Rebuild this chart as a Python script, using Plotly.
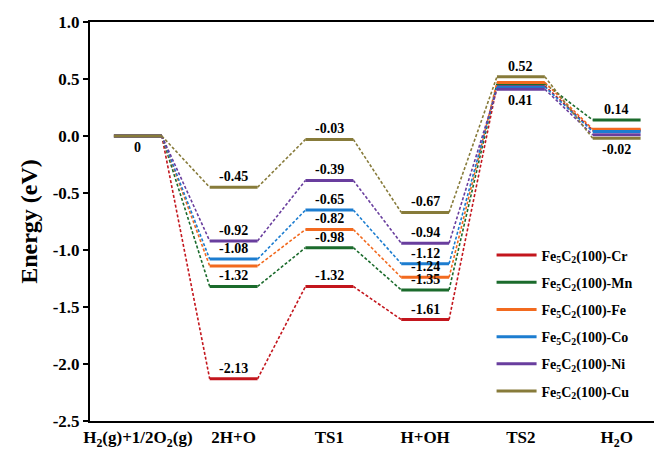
import plotly.graph_objects as go

# Reaction stages along the x axis
stages = ["H<sub>2</sub>(g)+1/2O<sub>2</sub>(g)", "2H+O", "TS1", "H+OH", "TS2", "H<sub>2</sub>O"]

# Relative energies (eV) at each stage for every doped surface
e_cr = [0.0, -2.13, -1.32, -1.61, 0.44, 0.05]
e_mn = [0.0, -1.32, -0.98, -1.35, 0.46, 0.14]
e_fe = [0.0, -1.14, -0.82, -1.24, 0.47, 0.06]
e_co = [0.0, -1.08, -0.65, -1.12, 0.43, 0.04]
e_ni = [0.0, -0.92, -0.39, -0.94, 0.41, 0.01]
e_cu = [0.0, -0.45, -0.03, -0.67, 0.52, -0.02]

names = ["Fe<sub>5</sub>C<sub>2</sub>(100)-Cr", "Fe<sub>5</sub>C<sub>2</sub>(100)-Mn",
         "Fe<sub>5</sub>C<sub>2</sub>(100)-Fe", "Fe<sub>5</sub>C<sub>2</sub>(100)-Co",
         "Fe<sub>5</sub>C<sub>2</sub>(100)-Ni", "Fe<sub>5</sub>C<sub>2</sub>(100)-Cu"]
energies = [e_cr, e_mn, e_fe, e_co, e_ni, e_cu]
colors = ["#c3161d", "#1b6b2c", "#f26a1f", "#1c7dd0", "#693e9e", "#877b3a"]

# y axis ticks
y_ticks = [1.0, 0.5, 0.0, -0.5, -1.0, -1.5, -2.0, -2.5]
y_ticktext = ["1.0", "0.5", "0.0", "-0.5", "-1.0", "-1.5", "-2.0", "-2.5"]

# Which stages carry a value label, and whether it sits above (+1) or below (-1) the level
labels_cr = {1: 1, 2: 1, 3: 1}
labels_mn = {1: 1, 2: 1, 3: 1, 5: 1}
labels_fe = {2: 1, 3: 1}
labels_co = {1: 1, 2: 1, 3: 1}
labels_ni = {1: 1, 2: 1, 3: 1, 4: -1}
labels_cu = {0: -1, 1: 1, 2: 1, 3: 1, 4: 1, 5: -1}
label_sets = [labels_cr, labels_mn, labels_fe, labels_co, labels_ni, labels_cu]

HALF = 0.25  # half width of each energy level bar

fig = go.Figure()
for name, ys, col in zip(names, energies, colors):
    # dashed connectors between consecutive levels
    cx, cy = [], []
    for i in range(len(ys) - 1):
        cx += [i + HALF, i + 1 - HALF, None]
        cy += [ys[i], ys[i + 1], None]
    fig.add_trace(go.Scatter(x=cx, y=cy, mode="lines", showlegend=False,
                             line=dict(color=col, width=1.6, dash="3px,2px"),
                             hoverinfo="skip"))
for name, ys, col in zip(names, energies, colors):
    # solid energy levels
    lx, ly = [], []
    for i, v in enumerate(ys):
        lx += [i - HALF, i + HALF, None]
        ly += [v, v, None]
    fig.add_trace(go.Scatter(x=lx, y=ly, mode="lines", name=f"<b>{name}</b>",
                             legendgroup=name, line=dict(color=col, width=3)))

label_font = dict(family="Liberation Serif", size=14, color="black")
for ys, lab in zip(energies, label_sets):
    for i, pos in lab.items():
        v = ys[i]
        txt = "0" if v == 0 else f"{v:.2f}"
        fig.add_annotation(x=i, y=v, text=f"<b>{txt}</b>", showarrow=False,
                           font=label_font,
                           yanchor="bottom" if pos > 0 else "top",
                           yshift=1 if pos > 0 else -2)

axis_font = dict(family="Liberation Serif", size=17, color="black")
fig.update_layout(
    width=654, height=459,
    margin=dict(l=90, r=0, t=22, b=37.5),
    plot_bgcolor="white", paper_bgcolor="white",
    font=dict(family="Liberation Serif", color="black"),
    showlegend=True,
    legend=dict(x=0.712, y=0.455, xanchor="left", yanchor="top",
                font=dict(family="Liberation Serif", size=14, color="black"),
                tracegroupgap=6, itemwidth=40, bgcolor="rgba(0,0,0,0)"),
    xaxis=dict(range=[-0.5, 5.39], tickmode="array", tickvals=list(range(len(stages))),
               ticktext=[f"<b>{s}</b>" for s in stages], tickfont=axis_font,
               showline=True, linecolor="black", linewidth=2, mirror=True,
               ticks="", showgrid=False, zeroline=False),
    yaxis=dict(range=[-2.5, 1.0], tickmode="array", tickvals=y_ticks,
               ticktext=[f"<b>{t}</b>" for t in y_ticktext], tickfont=axis_font,
               showline=True, linecolor="black", linewidth=2, mirror=False,
               ticks="outside", ticklen=5, tickwidth=2, tickcolor="black",
               showgrid=False, zeroline=False,
               title=dict(text="<b>Energy (eV)</b>",
                          font=dict(family="Liberation Serif", size=24, color="black"),
                          standoff=8)),
)

fig.write_html("out.html")
